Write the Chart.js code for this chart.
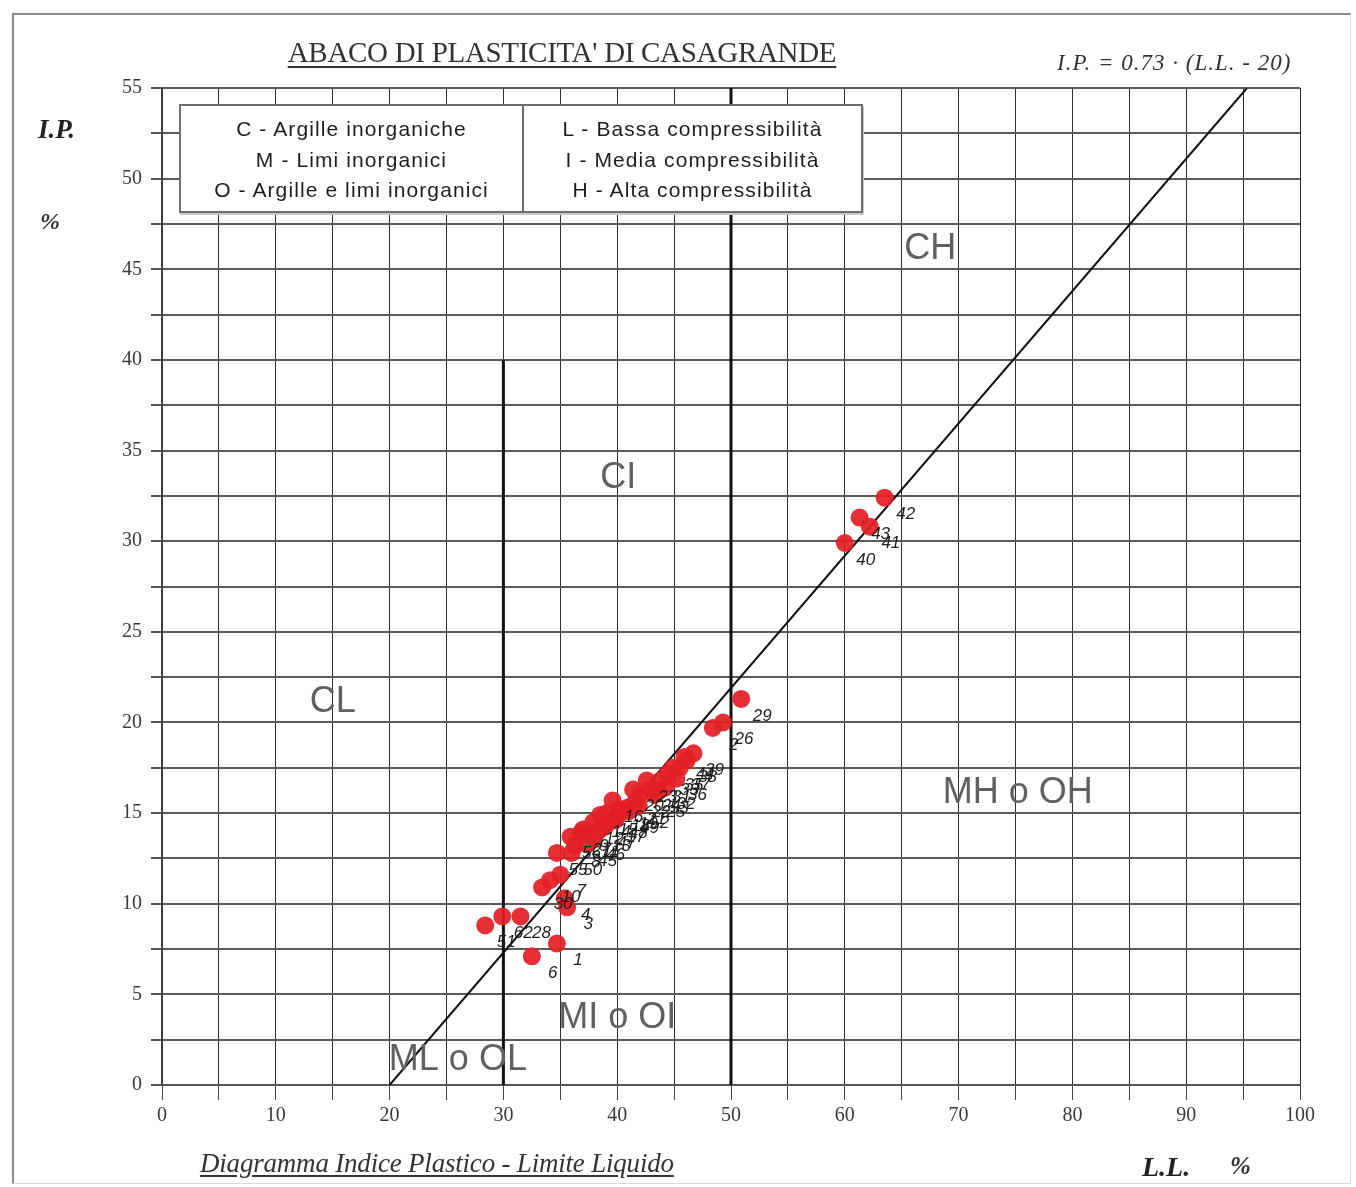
<!DOCTYPE html>
<html>
<head>
<meta charset="utf-8">
<script src="https://cdn.jsdelivr.net/npm/chart.js@4.4.1/dist/chart.umd.min.js"></script>
<style>
  html, body { margin: 0; padding: 0; background: #fff; }
  #wrap { position: relative; width: 1356px; height: 1187px; overflow: hidden; }
  #chartBox { position: absolute; left: 0; top: 0; width: 1356px; height: 1187px; }
  .frame { position: absolute; left: 12px; top: 13px; width: 1336px; height: 1168px;
           border-top: 2px solid #8a8a8a; border-left: 2px solid #8a8a8a;
           border-right: 1px solid #e2e2e2; border-bottom: 1px solid #d8d8d8; pointer-events: none; }
  .title { position: absolute; left: 262px; top: 36px; width: 600px; text-align: center;
           font-family: "Liberation Serif", serif; font-size: 29px; color: #333;
           text-decoration: underline; text-underline-offset: 4px; white-space: nowrap; letter-spacing: -0.3px; }
  .formula { position: absolute; left: 1057px; top: 50px; font-family: "Liberation Serif", serif;
             font-style: italic; font-size: 23px; color: #333; white-space: nowrap; letter-spacing: 1px; }
  .ytitle { position: absolute; left: 38px; top: 114px; font-family: "Liberation Serif", serif;
            font-style: italic; font-weight: bold; font-size: 27px; color: #222; }
  .ypct { position: absolute; left: 40px; top: 208px; font-family: "Liberation Serif", serif;
          font-style: italic; font-weight: bold; font-size: 24px; color: #333; }
  .xcap { position: absolute; left: 200px; top: 1148px; font-family: "Liberation Serif", serif;
          font-style: italic; font-size: 27px; color: #333; text-decoration: underline;
          text-underline-offset: 3px; white-space: nowrap; letter-spacing: -0.2px; }
  .xtitle { position: absolute; left: 1142px; top: 1151px; font-family: "Liberation Serif", serif;
            font-style: italic; font-weight: bold; font-size: 28px; color: #222; white-space: nowrap; }
  .xpct { position: absolute; left: 1230px; top: 1152px; font-family: "Liberation Serif", serif;
          font-style: italic; font-weight: bold; font-size: 25px; color: #333; }
  .legend { position: absolute; left: 179px; top: 104px; width: 680px; height: 105px; background: #fff;
            border: 2px solid #6e6e6e; box-shadow: 1px 2px 0 #c8c8c8; display: flex;
            font-family: "Liberation Sans", Arial, sans-serif; font-size: 21px; color: #1e1e1e; }
  .legend .col { text-align: center; padding-top: 8px; line-height: 30.5px; white-space: nowrap; letter-spacing: 1.1px; }
  .legend .c1 { width: 341px; border-right: 2px solid #6e6e6e; }
  .legend .c2 { width: 337px; }
</style>
</head>
<body>
<div id="wrap">
  <div id="chartBox"><canvas id="c"></canvas></div>
  <div class="frame"></div>
  <div class="title">ABACO DI PLASTICITA' DI CASAGRANDE</div>
  <div class="formula">I.P. = 0.73 · (L.L. - 20)</div>
  <div class="ytitle">I.P.</div>
  <div class="ypct">%</div>
  <div class="legend">
    <div class="col c1">C - Argille inorganiche<br>M - Limi inorganici<br>O - Argille e limi inorganici</div>
    <div class="col c2">L - Bassa compressibilità<br>I - Media compressibilità<br>H - Alta compressibilità</div>
  </div>
  <div class="xcap">Diagramma Indice Plastico - Limite Liquido</div>
  <div class="xtitle">L.L.</div>
  <div class="xpct">%</div>
</div>
<script>
// ---- Data ----
const sampleLabels = ["51","62","28","6","1","3","4","30","10","7","55",
  "56","8","27","9","11","12","13","14","15","16","17","18","19","20","21","22","23","24","25",
  "31","32","33","35","36","37","38","39","44","45","46","47","48","49","50","52","53",
  "2","26","29","40","43","41","42"];
const liquidLimit = [28.4,29.9,31.5,32.5,34.7,35.6,35.4,33.4,34.1,35.0,34.7,
  35.9,36.3,36.8,37.0,37.6,37.9,38.5,38.5,39.1,39.6,39.8,40.2,40.9,41.4,41.6,42.0,42.6,42.9,43.3,
  43.8,44.2,44.5,44.9,45.2,45.5,46.1,46.7,45.9,37.3,38.0,39.0,40.0,41.0,36.0,41.9,43.6,
  48.4,49.3,50.9,60.0,61.3,62.2,63.5];
const plasticityIndex = [8.8,9.3,9.3,7.1,7.8,9.8,10.3,10.9,11.3,11.6,12.8,
  13.7,13.2,13.9,14.1,13.8,14.5,14.1,14.9,15.0,15.7,14.6,15.2,15.3,16.3,15.6,16.0,16.8,16.3,16.0,
  16.8,16.4,17.2,17.5,16.9,17.5,17.9,18.3,18.1,13.3,13.6,14.3,14.8,15.1,12.8,15.4,16.2,
  19.7,20.0,21.3,29.9,31.3,30.8,32.4];
// A-line: I.P. = 0.73 (L.L. - 20)
const aLineLL = [20, 20 + 55 / 0.73];
const aLineIP = [0, 55];
// zone boundaries (L.L. = 30 and L.L. = 50)
const boundary30LL = [30, 30], boundary30IP = [0, 40];
const boundary50LL = [50, 50], boundary50IP = [0, 55];
// zone names and where they sit (data coords)
const zoneNames = ["CH", "CI", "CL", "MH o OH", "MI o OI", "ML o OL"];
const zoneLL = [67.5, 40.1, 15.0, 75.2, 40.0, 26.0];
const zoneIP = [46.1, 33.5, 21.1, 16.1, 3.7, 1.4];
// axis ticks
const xTickStep = 5, xLabelEvery = 10;
const yTickStep = 2.5, yLabelEvery = 5;

const toXY = (xs, ys) => xs.map((x, i) => ({ x: x, y: ys[i] }));

const labelsPlugin = {
  id: 'pointLabels',
  afterDatasetsDraw(chart) {
    const ctx = chart.ctx;
    const meta = chart.getDatasetMeta(0);
    ctx.save();
    ctx.font = 'italic 17px "Liberation Sans", Arial, sans-serif';
    ctx.fillStyle = '#1e1e1e';
    ctx.textAlign = 'center';
    ctx.textBaseline = 'middle';
    meta.data.forEach((el, i) => {
      ctx.fillText(sampleLabels[i], el.x + 21, el.y + 17);
    });
    // zone names
    const xs = chart.scales.x, ys = chart.scales.y;
    ctx.font = '36px "Liberation Sans", Arial, sans-serif';
    ctx.fillStyle = '#606060';
    zoneNames.forEach((n, i) => {
      ctx.fillText(n, xs.getPixelForValue(zoneLL[i]), ys.getPixelForValue(zoneIP[i]));
    });
    ctx.restore();
  }
};

new Chart(document.getElementById('c'), {
  type: 'scatter',
  data: {
    datasets: [
      { label: 'Campioni', data: toXY(liquidLimit, plasticityIndex),
        backgroundColor: 'rgba(228,30,38,0.93)', borderColor: 'rgba(228,30,38,0.93)',
        pointRadius: 9, pointHoverRadius: 9, borderWidth: 0 },
      { label: 'Linea A', data: toXY(aLineLL, aLineIP), showLine: true,
        borderColor: '#111', borderWidth: 2, pointRadius: 0 },
      { label: 'LL30', data: toXY(boundary30LL, boundary30IP), showLine: true,
        borderColor: '#111', borderWidth: 3, pointRadius: 0 },
      { label: 'LL50', data: toXY(boundary50LL, boundary50IP), showLine: true,
        borderColor: '#111', borderWidth: 3, pointRadius: 0 }
    ]
  },
  options: {
    responsive: true,
    maintainAspectRatio: false,
    animation: false,
    events: [],
    layout: { padding: { left: 0, right: 56, top: 88, bottom: 42 } },
    plugins: { legend: { display: false }, tooltip: { enabled: false }, title: { display: false } },
    scales: {
      x: {
        type: 'linear', min: 0, max: 100,
        afterFit(s) { s.height = 60; },
        ticks: { stepSize: xTickStep, autoSkip: false, maxRotation: 0, padding: 4,
                 color: '#3a3a3a', font: { family: '"Liberation Serif", serif', size: 20 },
                 callback: v => (v % xLabelEvery === 0 ? String(v) : '') },
        grid: { color: '#2e2e2e', lineWidth: 1, tickLength: 15, tickColor: '#444' },
        border: { display: true, color: '#555', width: 2 }
      },
      y: {
        type: 'linear', min: 0, max: 55,
        afterFit(s) { s.width = 162; },
        ticks: { stepSize: yTickStep, autoSkip: false, padding: 9,
                 color: '#3a3a3a', font: { family: '"Liberation Serif", serif', size: 20 },
                 callback: v => (Math.abs(v % yLabelEvery) < 1e-9 ? String(v) : '') },
        grid: { color: '#5a5a5a', lineWidth: 2, tickLength: 11, tickColor: '#555' },
        border: { display: true, color: '#444', width: 1.5 }
      }
    }
  },
  plugins: [labelsPlugin]
});
</script>
</body>
</html>
